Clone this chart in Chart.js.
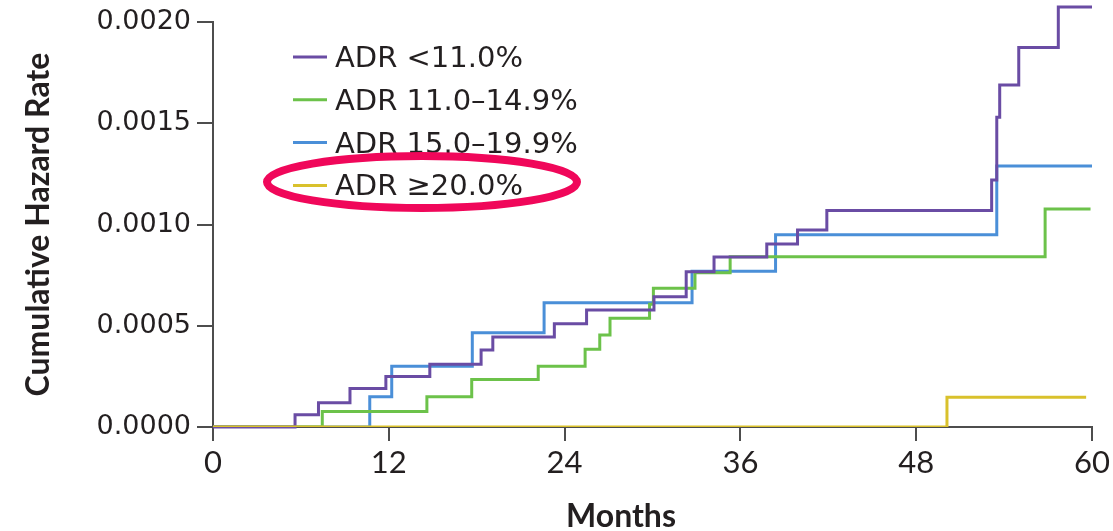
<!DOCTYPE html>
<html lang="en">
<head>
  <meta charset="UTF-8">
  <title>Cumulative Hazard Rate by ADR</title>
  <script src="https://cdn.jsdelivr.net/npm/chart.js"></script>
  <style>
    body {
      margin: 0;
      background-color: #ffffff;
    }
    canvas {
      display: block;
    }
  </style>
</head>
<body>
  <canvas id="grafica" width="1113" height="531"></canvas>

<script>
// datos (meses, tasa de riesgo acumulada)
const seriesLabels = ['ADR <11.0%', 'ADR 11.0\u201314.9%', 'ADR 15.0\u201319.9%', 'ADR \u226520.0%'];
const seriesColors = ['#6a4ca4', '#6cc24a', '#4a8fd8', '#d9c12c'];

const mesesLt11 = [0, 5.6, 7.2, 9.35, 11.8, 14.8, 18.3, 19.1, 23.3, 25.5, 30.1, 32.3, 34.2, 37.8, 39.9, 41.9, 53.15, 53.5, 53.7, 55.0, 57.7, 60];
const tasaLt11  = [0, 0.00006, 0.00012, 0.00019, 0.00025, 0.00031, 0.00038, 0.000445, 0.00051, 0.000578, 0.000644, 0.000767, 0.00084, 0.000904, 0.000973, 0.00107, 0.00122, 0.00153, 0.00169, 0.001875, 0.002075, 0.002075];

const meses11a15 = [0, 7.46, 14.6, 17.66, 22.2, 25.4, 26.4, 27.1, 29.8, 30.06, 32.9, 35.3, 56.8, 59.9];
const tasa11a15  = [0, 0.000076, 0.00015, 0.000235, 0.0003, 0.000384, 0.000454, 0.000537, 0.000607, 0.000685, 0.000762, 0.000841, 0.001077, 0.001077];

const meses15a20 = [0, 10.7, 12.2, 17.7, 22.6, 32.7, 38.4, 53.5, 60];
const tasa15a20  = [0, 0.00015, 0.0003, 0.000466, 0.000614, 0.00077, 0.00095, 0.00129, 0.00129];

const mesesGe20 = [0, 50.1, 59.6];
const tasaGe20  = [0, 0.000147, 0.000147];

const xTicks = [0, 12, 24, 36, 48, 60];
const yTicks = [0, 0.0005, 0.001, 0.0015, 0.002];

const ejeColor = '#4d4d4d';
const textoColor = '#231f20';

function puntos(meses, tasa) {
  return meses.map((m, i) => ({ x: m, y: tasa[i] }));
}

// leyenda, anotacion roja y titulo del eje x
const extras = {
  id: 'extras',
  afterDraw(chart) {
    const ctx = chart.ctx;
    ctx.save();
    ctx.font = '29px "DejaVu Sans"';
    ctx.textBaseline = 'alphabetic';
    ctx.textAlign = 'left';
    seriesLabels.forEach((lab, i) => {
      const y = 57 + i * 42.8;
      ctx.strokeStyle = seriesColors[i];
      ctx.lineWidth = 3;
      ctx.beginPath();
      ctx.moveTo(293, y);
      ctx.lineTo(327, y);
      ctx.stroke();
      ctx.fillStyle = textoColor;
      ctx.fillText(lab, 335, y + 10);
    });

    ctx.strokeStyle = '#f0075a';
    ctx.lineWidth = 8;
    ctx.beginPath();
    ctx.ellipse(422, 182, 155, 26, 0, 0, Math.PI * 2);
    ctx.stroke();

    ctx.font = 'bold 32px Lato';
    ctx.textAlign = 'center';
    ctx.fillStyle = textoColor;
    ctx.fillText('Months', 621, 527);
    ctx.restore();
  }
};

new Chart(document.getElementById('grafica'), {
  type: 'line',
  data: {
    datasets: [
      { label: seriesLabels[0], data: puntos(mesesLt11, tasaLt11), borderColor: seriesColors[0], order: 1, clip: false },
      { label: seriesLabels[1], data: puntos(meses11a15, tasa11a15), borderColor: seriesColors[1], order: 1 },
      { label: seriesLabels[2], data: puntos(meses15a20, tasa15a20), borderColor: seriesColors[2], order: 1 },
      { label: seriesLabels[3], data: puntos(mesesGe20, tasaGe20), borderColor: seriesColors[3], order: 0 }
    ]
  },
  options: {
    responsive: false,
    animation: false,
    layout: { padding: { top: 22, right: 21, left: 0, bottom: 0 } },
    elements: {
      point: { radius: 0 },
      line: { borderWidth: 3, stepped: 'before', tension: 0, fill: false }
    },
    plugins: {
      legend: { display: false },
      tooltip: { enabled: false }
    },
    scales: {
      x: {
        type: 'linear',
        min: 0,
        max: 60,
        afterBuildTicks: s => { s.ticks = xTicks.map(v => ({ value: v })); },
        afterFit: s => { s.height = 104; },
        grid: { drawOnChartArea: false, tickLength: 14, color: ejeColor, lineWidth: 2 },
        border: { color: ejeColor, width: 2 },
        ticks: { color: textoColor, font: { family: 'Lato', size: 31 }, padding: 3, maxRotation: 0 }
      },
      y: {
        min: 0,
        max: 0.002,
        afterBuildTicks: s => { s.ticks = yTicks.map(v => ({ value: v })); },
        afterFit: s => { s.width = 213; },
        grid: { drawOnChartArea: false, tickLength: 16, color: ejeColor, lineWidth: 2 },
        border: { color: ejeColor, width: 2 },
        ticks: {
          color: textoColor,
          font: { family: 'DejaVu Sans', size: 27 },
          padding: 6,
          callback: v => Number(v).toFixed(4)
        },
        title: {
          display: true,
          text: 'Cumulative Hazard Rate',
          color: textoColor,
          font: { family: 'Lato', weight: 'bold', size: 32 },
          padding: { top: 19, bottom: 0 }
        }
      }
    }
  },
  plugins: [extras]
});
</script>
</body>
</html>
